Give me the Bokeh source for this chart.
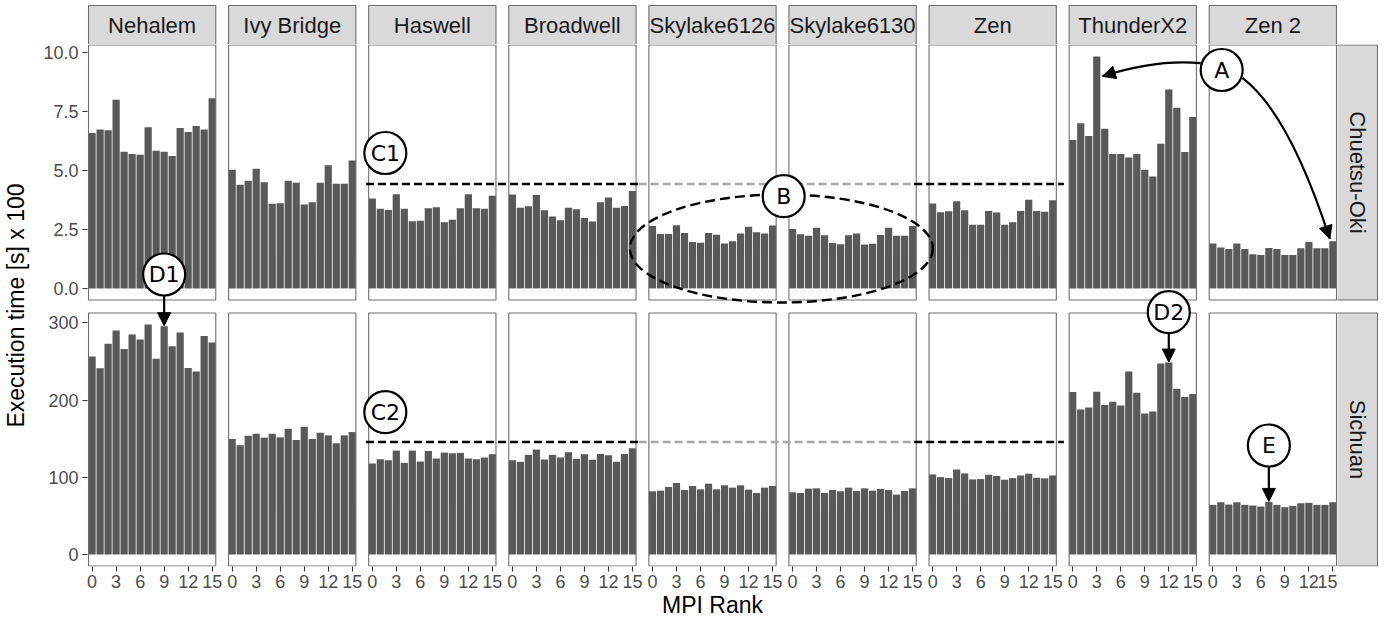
from math import pi, hypot
from bokeh.plotting import figure
from bokeh.models import Range1d, FixedTicker, Arrow, NormalHead
from bokeh.layouts import row, column
from bokeh.embed import file_html
from bokeh.resources import INLINE
from bokeh.core.properties import value

# ---------------- data ----------------
architectures = ["Nehalem", "Ivy Bridge", "Haswell", "Broadwell", "Skylake6126",
                 "Skylake6130", "Zen", "ThunderX2", "Zen 2"]
datasets = ["Chuetsu-Oki", "Sichuan"]
ranks = list(range(16))
rank_ticks = [0, 3, 6, 9, 12, 15]
top_ticks = [0, 2.5, 5, 7.5, 10]
top_tick_labels = ["0.0", "2.5", "5.0", "7.5", "10.0"]
bot_ticks = [0, 100, 200, 300]
bot_tick_labels = ["0", "100", "200", "300"]

chuetsu_nehalem = [6.60, 6.75, 6.71, 8.01, 5.80, 5.70, 5.67, 6.84, 5.84, 5.80, 5.62, 6.81, 6.64, 6.89, 6.75, 8.07]
chuetsu_ivybridge = [5.04, 4.40, 4.57, 5.08, 4.51, 3.59, 3.62, 4.57, 4.48, 3.56, 3.66, 4.48, 5.23, 4.44, 4.44, 5.43]
chuetsu_haswell = [3.82, 3.38, 3.33, 4.00, 3.38, 2.85, 2.87, 3.40, 3.45, 2.81, 2.91, 3.40, 4.00, 3.40, 3.38, 3.93]
chuetsu_broadwell = [3.99, 3.42, 3.49, 3.96, 3.32, 3.05, 2.89, 3.42, 3.36, 2.99, 2.84, 3.66, 3.86, 3.42, 3.50, 4.13]
chuetsu_skylake6126 = [2.65, 2.31, 2.31, 2.68, 2.35, 1.97, 1.94, 2.35, 2.28, 1.91, 2.00, 2.33, 2.62, 2.38, 2.33, 2.67]
chuetsu_skylake6130 = [2.52, 2.30, 2.24, 2.57, 2.26, 1.93, 1.87, 2.26, 2.33, 1.86, 1.90, 2.27, 2.57, 2.24, 2.24, 2.65]
chuetsu_zen = [3.60, 3.23, 3.28, 3.70, 3.32, 2.70, 2.70, 3.29, 3.22, 2.70, 2.81, 3.29, 3.76, 3.29, 3.25, 3.74]
chuetsu_thunderx2 = [6.30, 7.01, 6.47, 9.84, 6.78, 5.70, 5.70, 5.56, 5.70, 5.04, 4.75, 6.14, 8.44, 7.67, 5.79, 7.28]
chuetsu_zen2 = [1.91, 1.74, 1.67, 1.91, 1.67, 1.45, 1.42, 1.72, 1.67, 1.42, 1.42, 1.70, 1.97, 1.70, 1.70, 2.00]

sichuan_nehalem = [256.3, 241.3, 273.0, 290.1, 266.1, 285.0, 278.6, 297.9, 253.7, 295.7, 269.6, 287.6, 241.7, 237.0, 282.9, 274.7]
sichuan_ivybridge = [149.6, 141.4, 153.9, 156.4, 151.3, 156.4, 151.7, 162.9, 148.3, 165.4, 149.6, 157.7, 154.3, 144.0, 154.3, 158.6]
sichuan_haswell = [117.9, 123.4, 122.1, 134.6, 118.7, 134.6, 120.4, 134.1, 124.3, 132.0, 131.1, 131.6, 124.3, 123.4, 125.6, 129.9]
sichuan_broadwell = [122.1, 120.0, 129.0, 135.9, 123.0, 129.0, 125.6, 132.4, 123.9, 129.9, 122.6, 130.3, 128.6, 120.0, 130.3, 137.6]
sichuan_skylake6126 = [81.9, 82.7, 87.4, 92.6, 83.6, 88.7, 84.4, 91.7, 84.4, 89.6, 86.6, 89.6, 84.0, 79.7, 86.6, 88.7]
sichuan_skylake6130 = [80.6, 79.7, 85.3, 85.7, 79.7, 83.6, 81.9, 86.6, 82.3, 85.7, 82.7, 84.9, 83.6, 77.6, 82.3, 85.7]
sichuan_zen = [103.7, 100.3, 99.0, 110.1, 105.0, 97.3, 97.7, 103.3, 101.6, 96.9, 99.0, 102.4, 104.6, 99.4, 98.6, 102.4]
sichuan_thunderx2 = [210.4, 187.7, 190.3, 210.9, 193.7, 198.0, 192.9, 237.0, 209.6, 182.6, 185.1, 247.3, 248.6, 214.7, 204.0, 207.9]
sichuan_zen2 = [64.3, 67.7, 64.7, 67.7, 64.3, 63.4, 62.1, 68.1, 64.3, 61.3, 63.0, 66.4, 66.9, 64.3, 64.3, 67.7]

chuetsu_rows = [chuetsu_nehalem, chuetsu_ivybridge, chuetsu_haswell, chuetsu_broadwell,
                chuetsu_skylake6126, chuetsu_skylake6130, chuetsu_zen, chuetsu_thunderx2, chuetsu_zen2]
sichuan_rows = [sichuan_nehalem, sichuan_ivybridge, sichuan_haswell, sichuan_broadwell,
                sichuan_skylake6126, sichuan_skylake6130, sichuan_zen, sichuan_thunderx2, sichuan_zen2]

# annotation reference levels
c1_level = 4.43
c2_level = 145.7

# ---------------- styling / geometry ----------------
FONT = "Liberation Sans"
BAR_FILL = "#595959"
BORDER = "#6E6E6E"
STRIP_FILL = "#D9D9D9"
TICK_TXT = "#4D4D4D"

W_TOTAL, H_TOTAL = 1395, 621
FR_L, FR_R = 85.0, 1337.0
P_L, P_R = 86.0, 1336.0
F_TOP, F_BOT = 44.0, 566.0
T_TOP, T_BOT = 44.5, 299.5
B_TOP, B_BOT = 312.5, 565.5

bar_width = 0.9
half = bar_width / 2
n_rank = len(ranks)
npan = len(architectures)
pw = (n_rank - 1) + 2 * half
gap = 1.6
step = pw + gap
ux = (P_R - P_L) / ((npan - 1) * step + pw)
x_range = Range1d(-half - (P_L - FR_L) / ux,
                  (npan - 1) * step + (n_rank - 1) + half + (FR_R - P_R) / ux)

M1 = max(max(v) for v in chuetsu_rows)
M2 = max(max(v) for v in sichuan_rows)
lo1, hi1 = -0.05 * M1, 1.05 * M1
lo2, hi2 = -0.05 * M2, 1.05 * M2
k1 = (T_BOT - T_TOP) / (hi1 - lo1)
k2 = (B_BOT - B_TOP) / (hi2 - lo2)
top_range = Range1d(lo1 - (F_BOT - T_BOT) / k1, hi1 + (T_TOP - F_TOP) / k1)
bot_range = Range1d(lo2 - (F_BOT - B_BOT) / k2, hi2 + (B_TOP - F_TOP) / k2)


def px2x(px):
    return x_range.start + (px - FR_L) / ux


def py2t(py):
    return top_range.end - (py - F_TOP) / k1


def b2t(v):
    py = F_TOP + (bot_range.end - v) * k2
    return py2t(py)


def pan_x(k, r):
    return k * step + r


# ---------------- main figure ----------------
p = figure(width=int(FR_R), height=int(H_TOTAL - F_TOP), x_range=x_range, y_range=top_range,
           output_backend="svg", toolbar_location=None,
           min_border_left=int(FR_L), min_border_right=0, min_border_top=0,
           min_border_bottom=int(H_TOTAL - F_BOT))
p.extra_y_ranges = {"bot": bot_range}
p.outline_line_color = None
p.grid.visible = False
p.background_fill_color = "white"
p.border_fill_color = "white"

# bars
for k, arch in enumerate(architectures):
    xs = [pan_x(k, r) for r in ranks]
    p.vbar(x=xs, top=chuetsu_rows[k], bottom=0, width=bar_width,
           fill_color=BAR_FILL, line_color=None)
    p.vbar(x=xs, top=sichuan_rows[k], bottom=0, width=bar_width,
           fill_color=BAR_FILL, line_color=None, y_range_name="bot")

# panel borders
lefts = [pan_x(k, -half) for k in range(npan)]
rights = [pan_x(k, n_rank - 1 + half) for k in range(npan)]
p.quad(left=lefts, right=rights, bottom=lo1, top=hi1, fill_color=None,
       line_color=BORDER, line_width=1.1)
p.quad(left=lefts, right=rights, bottom=lo2, top=hi2, fill_color=None,
       line_color=BORDER, line_width=1.1, y_range_name="bot")

# axes
xt = [pan_x(k, r) for k in range(npan) for r in rank_ticks]
p.xaxis.ticker = FixedTicker(ticks=xt, minor_ticks=[])
p.xaxis.major_label_overrides = {pan_x(k, r): str(r) for k in range(npan) for r in rank_ticks}
p.xaxis.axis_label = "MPI Rank"

yt_top = list(top_ticks)
yt_bot = [b2t(v) for v in bot_ticks]
p.yaxis.ticker = FixedTicker(ticks=yt_top + yt_bot, minor_ticks=[])
ov = {}
for v, lab in zip(yt_top, top_tick_labels):
    ov[v] = lab
for v, lab in zip(yt_bot, bot_tick_labels):
    ov[v] = lab
p.yaxis.major_label_overrides = ov
p.yaxis.axis_label = "Execution time [s] x 100"

for ax in (p.xaxis[0], p.yaxis[0]):
    ax.axis_line_color = None
    ax.major_tick_line_color = "#333333"
    ax.major_tick_line_width = 1.1
    ax.major_tick_out = 5
    ax.major_tick_in = 0
    ax.minor_tick_line_color = None
    ax.major_label_text_font = FONT
    ax.major_label_text_font_size = "18px"
    ax.major_label_text_color = TICK_TXT
    ax.axis_label_text_font = FONT
    ax.axis_label_text_font_size = "23px"
    ax.axis_label_text_font_style = "normal"
    ax.axis_label_text_color = "black"
p.xaxis.major_label_standoff = 3
p.xaxis.axis_label_standoff = 1
p.yaxis.major_label_standoff = 4
p.yaxis.axis_label_standoff = 11

# dashed reference lines C1 / C2
seg_black = [(364, 637), (913, 1063)]
seg_gray = [(637, 913)]
for lvl, rng in ((c1_level, "default"), (c2_level, "bot")):
    p.segment(x0=[px2x(a) for a, b in seg_black], x1=[px2x(b) for a, b in seg_black],
              y0=[lvl] * 2, y1=[lvl] * 2, line_color="black", line_width=2.4,
              line_dash="8 4", y_range_name=rng)
    p.segment(x0=[px2x(a) for a, b in seg_gray], x1=[px2x(b) for a, b in seg_gray],
              y0=[lvl], y1=[lvl], line_color="#A8A8A8", line_width=2.4,
              line_dash="8 4", y_range_name=rng)

# ellipse B
p.ellipse(x=[px2x(780)], y=[py2t(248)], width=303, height=108,
          width_units="screen", height_units="screen", fill_color=None,
          line_color="black", line_width=2.4, line_dash="10 5")

# curved arrows from A
curves = [((1200.0, 62.7), (1155.5, 58.7), (1101.5, 75.8)),
          ((1241.7, 77.3), (1288.5, 112.5), (1329.3, 238.3))]
for (p0, c, p2) in curves:
    p.quadratic(x0=[px2x(p0[0])], y0=[py2t(p0[1])], x1=[px2x(p2[0])], y1=[py2t(p2[1])],
                cx=[px2x(c[0])], cy=[py2t(c[1])], line_color="black", line_width=2.2)
    dx, dy = p2[0] - c[0], p2[1] - c[1]
    d = hypot(dx, dy)
    sx, sy = p2[0] - 6 * dx / d, p2[1] - 6 * dy / d
    p.add_layout(Arrow(x_start=px2x(sx), y_start=py2t(sy), x_end=px2x(p2[0]), y_end=py2t(p2[1]),
                       line_alpha=0.0, line_width=0.1,
                       end=NormalHead(size=13, fill_color="black", line_color="black", line_width=1)))

# straight arrows D1, D2, E  (tips at the bar tops they point to)
d_targets = [(0, 9, 295.0), (7, 12, 333.0), (8, 7, 466.0)]
for k, r, py_start in d_targets:
    xv = pan_x(k, r)
    yend = b2t(sichuan_rows[k][r]) + 0.5 / k1
    p.add_layout(Arrow(x_start=xv, y_start=py2t(py_start), x_end=xv, y_end=yend,
                       line_color="black", line_width=2.2,
                       end=NormalHead(size=13, fill_color="black", line_color="black", line_width=1)))

# circled labels
circ_labels = ["A", "B", "C1", "C2", "D1", "D2", "E"]
circ_x = [px2x(1221.0), px2x(782.3), px2x(383.3), px2x(383.3), pan_x(0, 9), pan_x(7, 12), pan_x(8, 7)]
circ_y = [py2t(69.5), py2t(195.7), py2t(152.5), py2t(411.7), py2t(274.0), py2t(311.7), py2t(445.0)]
p.scatter(x=circ_x, y=circ_y, marker="circle", size=42, fill_color="white",
          line_color="black", line_width=2.2)
p.text(x=circ_x, y=circ_y, text=circ_labels, text_font=value("DejaVu Sans"),
       text_font_size="22px", text_align="center", text_baseline="middle", text_color="black")

# ---------------- top strips ----------------
ts = figure(width=int(FR_R), height=int(F_TOP), x_range=x_range, y_range=Range1d(0, 1),
            output_backend="svg", toolbar_location=None, x_axis_type=None, y_axis_type=None,
            min_border_left=int(FR_L), min_border_right=0, min_border_top=3, min_border_bottom=0)
ts.outline_line_color = None
ts.grid.visible = False
strip_top = (F_TOP - 5.0) / (F_TOP - 3.0)
ts.quad(left=lefts, right=rights, bottom=0, top=strip_top, fill_color=STRIP_FILL,
        line_color=BORDER, line_width=1.1)
ts.text(x=[pan_x(k, (n_rank - 1) / 2) for k in range(npan)], y=[strip_top / 2] * npan,
        text=architectures, text_font=value(FONT), text_font_size="22px",
        text_align="center", text_baseline="middle", text_color="#1A1A1A")

# ---------------- right strips ----------------
rs = figure(width=int(W_TOTAL - FR_R), height=H_TOTAL, x_range=Range1d(0, W_TOTAL - FR_R),
            y_range=top_range, output_backend="svg", toolbar_location=None,
            x_axis_type=None, y_axis_type=None,
            min_border_left=0, min_border_right=0, min_border_top=int(F_TOP),
            min_border_bottom=int(H_TOTAL - F_BOT))
rs.extra_y_ranges = {"bot": bot_range}
rs.outline_line_color = None
rs.grid.visible = False
rs.quad(left=[-1.0], right=[40.0], bottom=[lo1], top=[hi1], fill_color=STRIP_FILL,
        line_color=BORDER, line_width=1.1)
rs.quad(left=[-1.0], right=[40.0], bottom=[lo2], top=[hi2], fill_color=STRIP_FILL,
        line_color=BORDER, line_width=1.1, y_range_name="bot")
rs.text(x=[19.7], y=[(lo1 + hi1) / 2], text=[datasets[0]], angle=-pi / 2,
        text_font=value(FONT), text_font_size="22px", text_align="center",
        text_baseline="middle", text_color="#1A1A1A")
rs.text(x=[19.7], y=[(lo2 + hi2) / 2], text=[datasets[1]], angle=-pi / 2,
        text_font=value(FONT), text_font_size="22px", text_align="center",
        text_baseline="middle", text_color="#1A1A1A", y_range_name="bot")

layout = row(column(ts, p), rs)
open("out.html", "w").write(file_html(layout, INLINE))
